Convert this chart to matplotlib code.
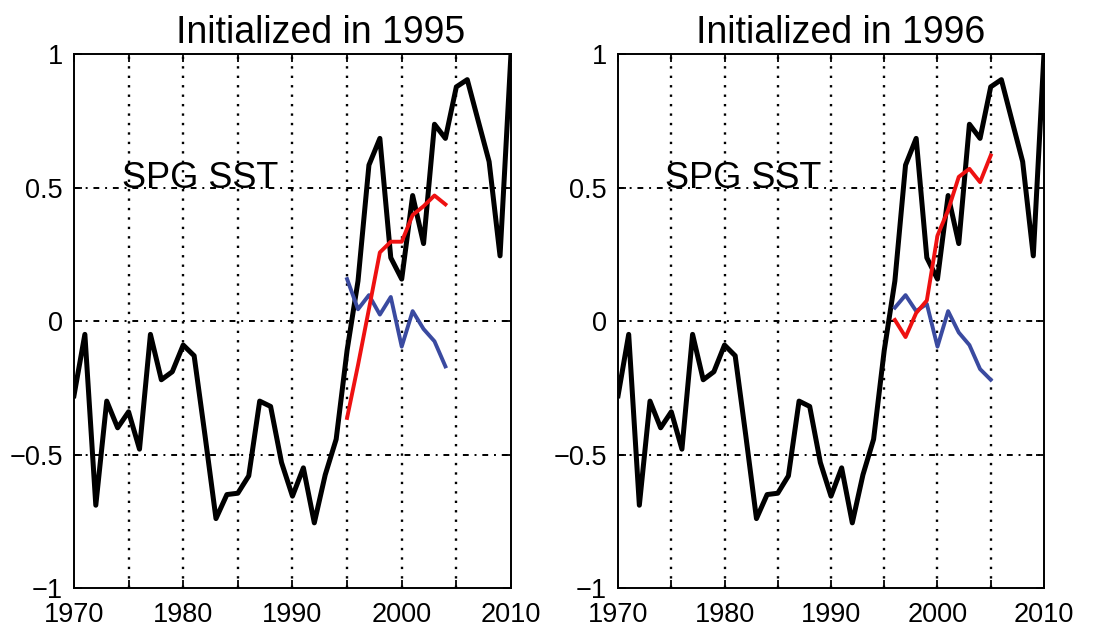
import matplotlib.pyplot as plt
import numpy as np

plt.rcParams['font.family'] = ['Liberation Sans', 'DejaVu Sans']

# ------------------------
# dados
years = np.arange(1970, 2011)
obs_sst = [-0.28, -0.05, -0.69, -0.30, -0.40, -0.34, -0.48, -0.05, -0.22, -0.19,
           -0.09, -0.13, -0.43, -0.74, -0.65, -0.645, -0.58, -0.30, -0.32, -0.53,
           -0.656, -0.55, -0.756, -0.576, -0.443, -0.11, 0.15, 0.584, 0.684, 0.237,
           0.157, 0.47, 0.29, 0.737, 0.684, 0.877, 0.904, 0.75, 0.597, 0.244,
           1.0]

years_1995 = np.arange(1995, 2005)
red_1995 = [-0.363, -0.165, 0.045, 0.257, 0.297, 0.297, 0.397, 0.43, 0.47, 0.437]
blue_1995 = [0.157, 0.044, 0.097, 0.024, 0.09, -0.096, 0.037, -0.03, -0.076, -0.17]

years_1996 = np.arange(1996, 2006)
red_1996 = [0.004, -0.06, 0.03, 0.077, 0.32, 0.415, 0.54, 0.57, 0.52, 0.62]
blue_1996 = [0.05, 0.097, 0.037, 0.064, -0.096, 0.037, -0.043, -0.09, -0.18, -0.22]

titles = ['Initialized in 1995', 'Initialized in 1996']
title_x = [0.565, 0.523]
xticks = np.arange(1970, 2011, 5)
xtick_labels = ['1970', '', '1980', '', '1990', '', '2000', '', '2010']
yticks = [-1, -0.5, 0, 0.5, 1]
ytick_labels = ['\u22121', '\u22120.5', '0', '0.5', '1']

panels = [(years_1995, red_1995, blue_1995), (years_1996, red_1996, blue_1996)]
positions = [[0.0665, 0.0607, 0.393, 0.853], [0.5558, 0.0607, 0.383, 0.853]]

fig = plt.figure(figsize=(11.12, 6.26), dpi=100)

for i in range(2):
    ax = fig.add_axes(positions[i])
    yr, red, blue = panels[i]

    # grade estilo matlab
    for xv in xticks[1:-1]:
        ax.axvline(xv, color='k', linestyle=(0, (1, 3)), linewidth=1.7, zorder=1)
    for yv in yticks[1:-1]:
        ax.axhline(yv, color='k', linestyle=(0, (3, 3, 1, 3)), linewidth=1.4, zorder=1)

    ax.plot(years, obs_sst, color='k', linewidth=3.6, zorder=3)
    ax.plot(yr, blue, color='#3a4aa0', linewidth=2.8, zorder=4)
    ax.plot(yr, red, color='#ee1111', linewidth=2.8, zorder=5)

    ax.text(1974.4, 0.5, 'SPG SST', fontsize=26, va='baseline', ha='left', zorder=6)

    ax.set_xlim(1970, 2010)
    ax.set_ylim(-1, 1)
    ax.set_xticks(xticks)
    ax.set_xticklabels(xtick_labels)
    ax.set_yticks(yticks)
    ax.set_yticklabels(ytick_labels)
    ax.tick_params(direction='in', length=6, width=1.3, labelsize=19.5,
                   top=True, right=True)
    ax.tick_params(axis='x', pad=10)
    ax.tick_params(axis='y', pad=8)
    for s in ax.spines.values():
        s.set_linewidth(1.4)
    ax.set_title(titles[i], fontsize=27, x=title_x[i], pad=8)

fig.savefig('out.png', dpi=100)
